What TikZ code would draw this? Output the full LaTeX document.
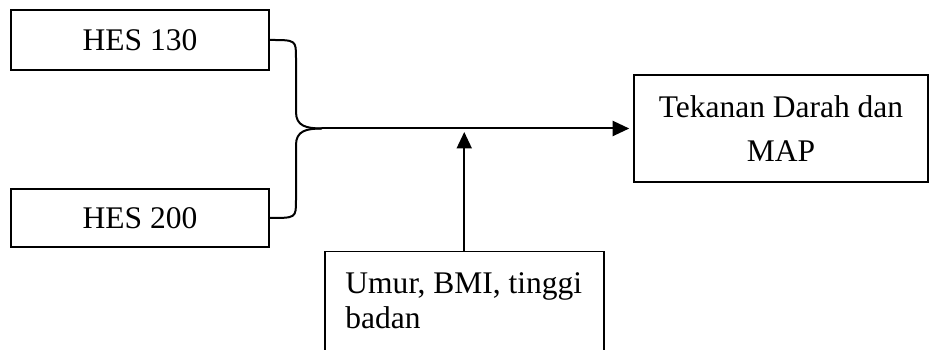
\documentclass[tikz,border=0pt]{standalone}
\usepackage{fontspec}
\setmainfont{Liberation Serif}
\usetikzlibrary{positioning,arrows.meta}

\tikzset{
  box/.style={draw, line width=0.6pt, inner sep=0pt, align=center,
    font=\fontsize{12.6}{17.6}\selectfont},
  link/.style={line width=0.8pt},
  flow/.style={line width=0.8pt, -{Triangle[length=6.6pt,width=6pt]}}
}

\begin{document}
\begin{tikzpicture}[x=0.4pt, y=-0.4pt]
  \useasboundingbox (0,0) rectangle (929,350);
  % input groups
  \node[box, minimum width=103.2pt, minimum height=24pt] (h130) at (140,40) {HES 130};
  \node[box, minimum width=103.2pt, minimum height=23.2pt] (h200) at (140,218) {HES 200};

  % outcome
  \node[box, minimum width=117.6pt, minimum height=42.8pt] (tdm) at (781,128.5) {Tekanan Darah dan\\MAP};

  % covariates (box runs off the bottom)
  \node[box, minimum width=111.6pt, minimum height=60pt, anchor=north west] (ubt) at (324,251) {};
  \node[anchor=north west, inner sep=0pt, align=left, font=\fontsize{12.6}{14}\selectfont] (ubttxt) at (345,272) {Umur, BMI, tinggi\\badan};

  % brace joining the two groups
  \coordinate (jn) at (322,128.5);
  \draw[link] (h130.east) .. controls (296,40) .. (296,58) -- (296,112) .. controls (296,126) and (306,128.5) .. (jn);
  \draw[link] (h200.east) .. controls (296,218) .. (296,200) -- (296,145) .. controls (296,131) and (306,128.5) .. (jn);

  \draw[flow, shorten >=1.6pt] (jn) -- (tdm.west);
  \draw[flow, shorten >=1.4pt] (ubt.north) -- (ubt.north |- jn);
\end{tikzpicture}
\end{document}
